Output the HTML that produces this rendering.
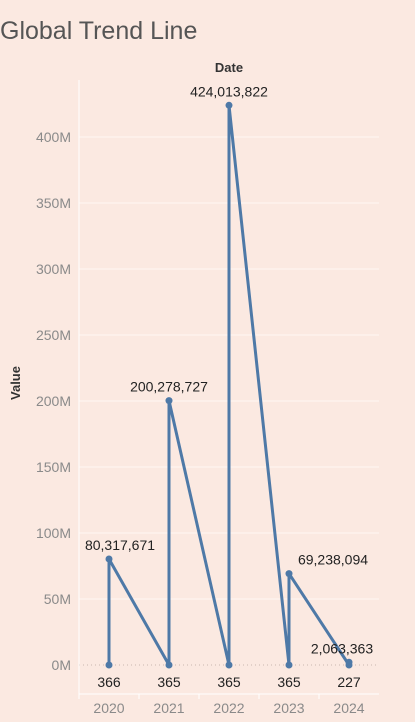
<!DOCTYPE html>
<html><head><meta charset="utf-8"><style>
body{margin:0;background:#fbe9e1;width:415px;height:722px;overflow:hidden;font-family:"Liberation Sans",sans-serif}
</style></head><body>
<svg width="415" height="722" xmlns="http://www.w3.org/2000/svg" style="position:absolute;left:0;top:0">
<rect width="415" height="722" fill="#fbe9e1"/>
<text x="0" y="39" font-size="25" fill="#555">Global Trend Line</text>
<text x="229" y="72" font-size="13" font-weight="bold" fill="#333" text-anchor="middle">Date</text>
<text transform="translate(20,383) rotate(-90)" font-size="13" font-weight="bold" fill="#333" text-anchor="middle">Value</text>
<g id="grid"></g><g id="axes"></g><g id="series"></g><g id="labels"></g>
</svg>
<script>
const years=["2020","2021","2022","2023","2024"];
const lowValues=[366,365,365,365,227];
const highValues=[80317671,200278727,424013822,69238094,2063363];
const yTicks=[0,50,100,150,200,250,300,350,400];
const NS="http://www.w3.org/2000/svg";
function y(v){return 665-v/1e6*1.32;}
function x(i){return 109+i*60;}
function mk(tag,attrs,parent,txt){const e=document.createElementNS(NS,tag);for(const k in attrs)e.setAttribute(k,attrs[k]);if(txt!==undefined)e.textContent=txt;document.getElementById(parent).appendChild(e);return e;}
yTicks.forEach(t=>{
  const g=mk('line',{x1:79,x2:379,y1:y(t*1e6),y2:y(t*1e6),stroke:t===0?'#c9b8b0':'#fff6f2','stroke-width':1,'stroke-dasharray':t===0?'1,3':''},'grid');
  
  
  const l=mk('text',{x:71,y:y(t*1e6)+5,'font-size':14,fill:'#8a8a8a','text-anchor':'end'},'axes',t+'M');
  
  
});
const ax=mk('path',{d:'M79,80V694H379',stroke:'#fff',fill:'none','stroke-width':1},'axes');


years.forEach((yr,i)=>{
  const tk=mk('line',{x1:79+i*60,x2:79+i*60,y1:694,y2:699,stroke:'#fff'},'axes');
  
  
  const t=mk('text',{x:x(i),y:713,'font-size':14,fill:'#8a8a8a','text-anchor':'middle'},'axes',yr);
  
  
});
let d='';
years.forEach((yr,i)=>{d+=(i?'L':'M')+x(i)+','+y(lowValues[i])+'L'+x(i)+','+y(highValues[i]);});
const p=mk('path',{d:d,stroke:'#4e79a7',fill:'none','stroke-width':3,'stroke-linejoin':'round'},'series');


const labelShift=[11,0,0,44,-7];
years.forEach((yr,i)=>{
  [lowValues[i],highValues[i]].forEach((v,j)=>{
    const c=mk('circle',{cx:x(i),cy:y(v),r:3.5,fill:'#4e79a7'},'series');
    
    
  });
  const lo=mk('text',{x:x(i),y:y(lowValues[i])+22,'font-size':14,fill:'#222','text-anchor':'middle'},'labels',lowValues[i].toLocaleString('en-US'));
  
  
  const hi=mk('text',{x:x(i)+labelShift[i],y:y(highValues[i])-9,'font-size':14,fill:'#222','text-anchor':'middle'},'labels',highValues[i].toLocaleString('en-US'));
  
  
});
</script>
</body></html>
